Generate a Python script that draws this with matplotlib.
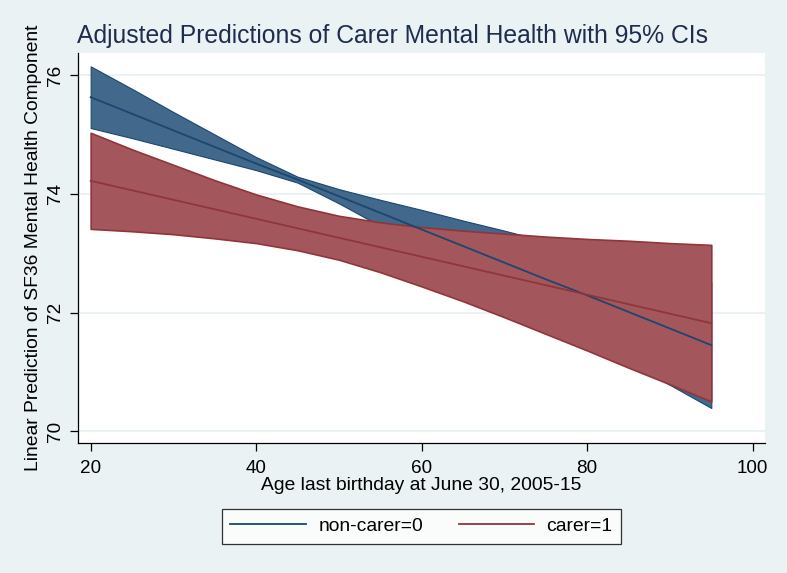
import numpy as np
import matplotlib
matplotlib.use("Agg")
import matplotlib.pyplot as plt
from matplotlib.lines import Line2D

plt.rcParams['font.family'] = ['Liberation Sans', 'DejaVu Sans']

# margins at ages 20(5)95
age = [20, 25, 30, 35, 40, 45, 50, 55, 60, 65, 70, 75, 80, 85, 90, 95]

noncarer_fit = [75.63, 75.35, 75.07, 74.79, 74.51, 74.24, 73.96, 73.68,
                73.40, 73.12, 72.84, 72.56, 72.29, 72.01, 71.73, 71.45]
noncarer_hi = [76.15, 75.77, 75.38, 75.00, 74.62, 74.29, 74.08, 73.90,
               73.73, 73.55, 73.38, 73.20, 73.04, 72.86, 72.68, 72.51]
noncarer_lo = [75.11, 74.94, 74.76, 74.58, 74.40, 74.19, 73.84, 73.46,
               73.07, 72.69, 72.30, 71.92, 71.55, 71.16, 70.78, 70.39]

carer_fit = [74.22, 74.06, 73.90, 73.74, 73.58, 73.42, 73.26, 73.10,
             72.94, 72.78, 72.62, 72.46, 72.30, 72.14, 71.98, 71.82]
carer_hi = [75.03, 74.75, 74.49, 74.23, 73.99, 73.79, 73.63, 73.52,
            73.44, 73.38, 73.33, 73.28, 73.24, 73.21, 73.17, 73.14]
carer_lo = [73.41, 73.37, 73.32, 73.25, 73.17, 73.05, 72.89, 72.68,
            72.44, 72.19, 71.92, 71.64, 71.36, 71.07, 70.79, 70.50]

labels = ["non-carer=0", "carer=1"]
xticks = [20, 40, 60, 80, 100]
yticks = [70, 72, 74, 76]

bg = "#EAF2F3"
navy = "#1A476F"
navy_fill = "#42688C"
maroon = "#90353B"
maroon_fill = "#A3575C"
fs = 13.9

fig = plt.figure(figsize=(7.87, 5.73), dpi=100, facecolor=bg)
ax = fig.add_axes([78/787, 1-443/573, (765-78)/787, (443-52.7)/573])
ax.set_facecolor("white")

# CI bands (Stata rarea) then the fitted lines on top
ax.fill_between(age, noncarer_lo, noncarer_hi, facecolor=navy_fill,
                edgecolor=navy, linewidth=0.8, zorder=2)
ax.fill_between(age, carer_lo, carer_hi, facecolor=maroon_fill,
                edgecolor=maroon, linewidth=1.2, zorder=3)
ax.plot(age, noncarer_fit, color=navy, linewidth=1.3, zorder=4)
ax.plot(age, carer_fit, color=maroon, linewidth=1.3, zorder=5)

ax.set_xlim(18.47, 101.49)
ax.set_ylim(69.80, 76.38)
ax.set_xticks(xticks)
ax.set_yticks(yticks)
ax.yaxis.grid(True, color=bg, linewidth=1.4, zorder=1)
ax.set_axisbelow(True)

for s in ["top", "right"]:
    ax.spines[s].set_visible(False)
for s in ["left", "bottom"]:
    ax.spines[s].set_color("black")
    ax.spines[s].set_linewidth(0.9)

ax.tick_params(axis="both", direction="out", length=6, width=0.9,
               labelsize=13.6, colors="black")
ax.tick_params(axis="x", pad=6)
ax.tick_params(axis="y", pad=4)
for lbl in ax.get_yticklabels():
    lbl.set_rotation(90)
    lbl.set_va("center")

ax.set_xlabel("Age last birthday at June 30, 2005-15", fontsize=fs, labelpad=0)
ax.set_ylabel("Linear Prediction of SF36 Mental Health Component",
              fontsize=fs, labelpad=4)

fig.text(77/787, 1-43/573, "Adjusted Predictions of Carer Mental Health with 95% CIs",
         fontsize=17.8, color="#1E2C4E", ha="left", va="baseline")

handles = [Line2D([], [], color=navy, linewidth=1.3),
           Line2D([], [], color=maroon, linewidth=1.3)]
leg = fig.legend(handles, labels, loc="center", bbox_to_anchor=(421.5/787, 1-526.3/573),
                 ncol=2, fontsize=fs, frameon=True, fancybox=False,
                 edgecolor="black", facecolor="white", handlelength=3.9,
                 handletextpad=0.65, columnspacing=1.85, borderpad=0.45)
leg.get_frame().set_linewidth(0.9)

fig.savefig("out.png", dpi=100, facecolor=bg)
